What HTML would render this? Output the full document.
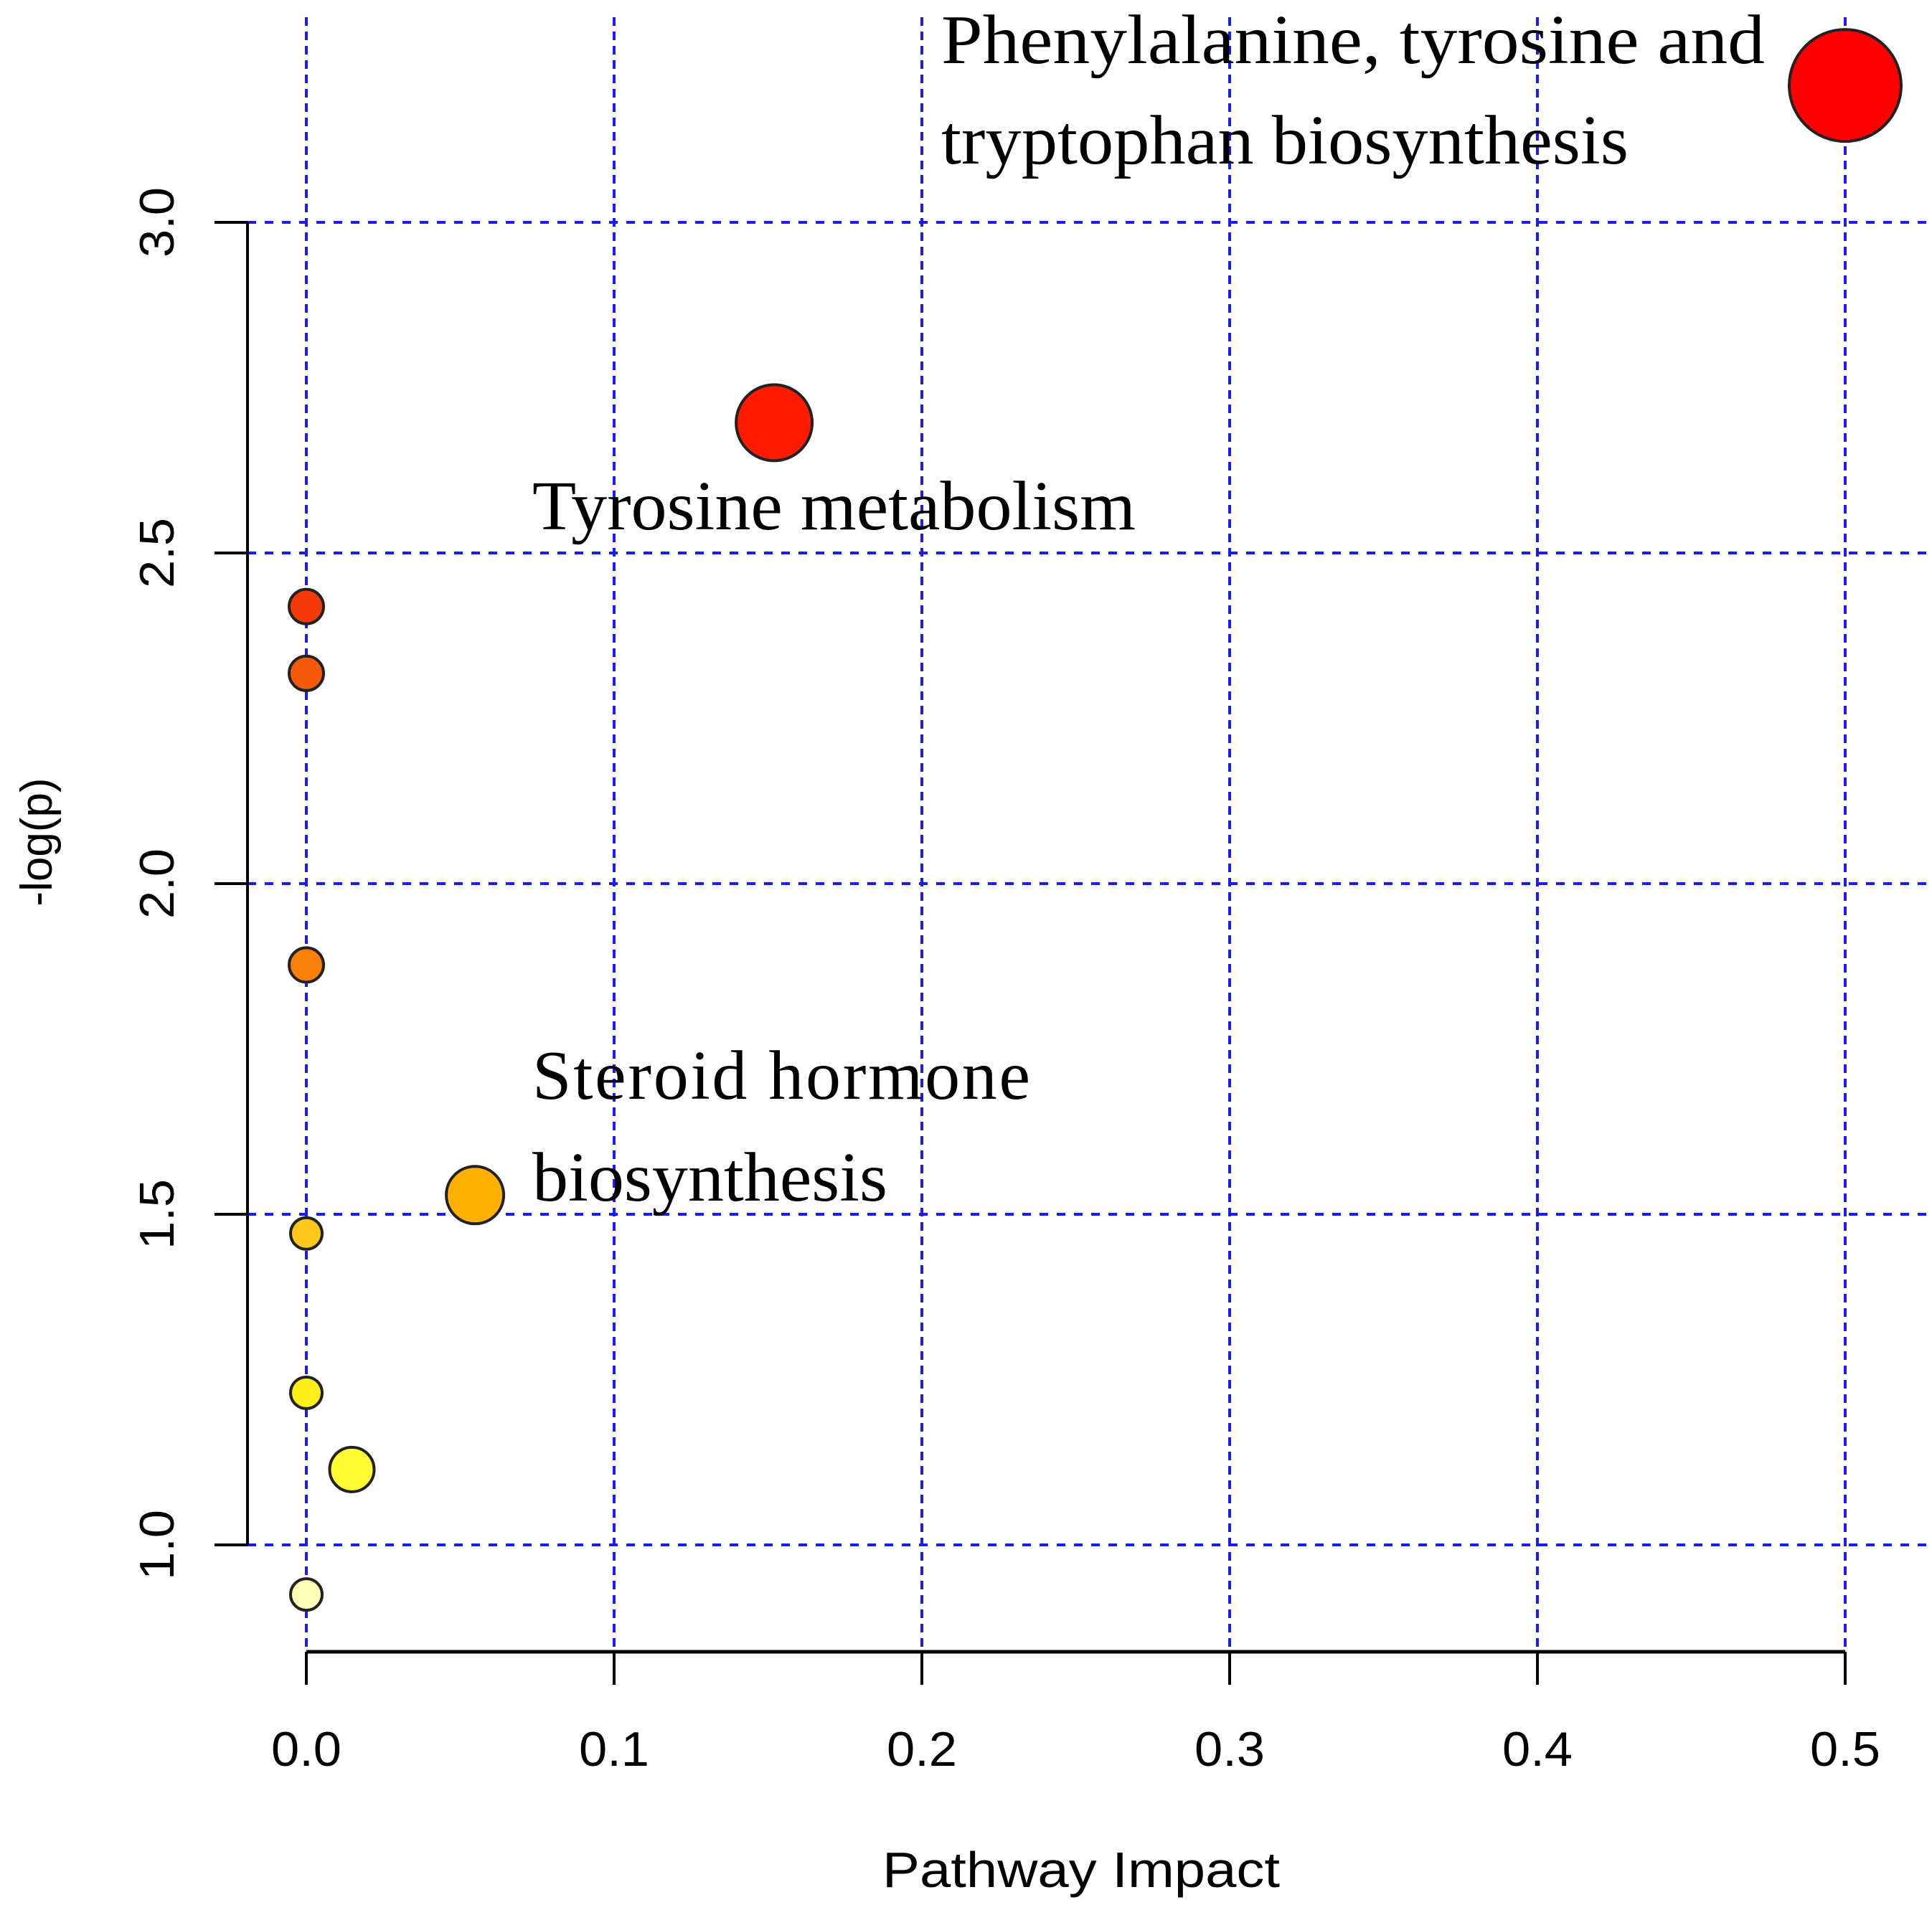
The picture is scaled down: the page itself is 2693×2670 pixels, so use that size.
<!DOCTYPE html>
<html><head><meta charset="utf-8"><style>
html,body{margin:0;padding:0;background:#fff;}
svg{display:block;}
</style></head><body>
<svg id="chart" width="2693" height="2670" viewBox="0 0 2693 2670" xmlns="http://www.w3.org/2000/svg">
<rect width="2693" height="2670" fill="#fff"/>
<g id="grid"></g>
<g id="axes"></g>
<g id="points"></g>
<g id="labels" font-family="Liberation Serif, serif" font-size="98" fill="#000">
<text x="1312" y="88" textLength="1148" lengthAdjust="spacingAndGlyphs">Phenylalanine, tyrosine and</text>
<text x="1312" y="228" textLength="958" lengthAdjust="spacingAndGlyphs">tryptophan biosynthesis</text>
<text x="742" y="738" textLength="841" lengthAdjust="spacingAndGlyphs">Tyrosine metabolism</text>
<text x="742" y="1532" textLength="694" lengthAdjust="spacing">Steroid  hormone</text>
<text x="742" y="1674" textLength="495" lengthAdjust="spacingAndGlyphs">biosynthesis</text>
</g>
</svg>
<script>
const impactValues = [0.5, 0.152, 0, 0, 0, 0.0548, 0, 0, 0.0148, 0];
const logPValues = [3.207, 2.697, 2.419, 2.318, 1.877, 1.529, 1.471, 1.230, 1.114, 0.925];
const pointColors = ["#ff0000","#ff1a00","#f53a0a","#f55a0a","#f77f0a","#ffb000","#ffc81a","#ffee1a","#ffff33","#ffffb8"];
const pointRadii = [78, 53, 24, 24, 24, 40, 22, 22, 31, 22];
const xTicks = [0, 0.1, 0.2, 0.3, 0.4, 0.5];
const xTickLabels = ["0.0","0.1","0.2","0.3","0.4","0.5"];
const yTicks = [1.0, 1.5, 2.0, 2.5, 3.0];
const yTickLabels = ["1.0","1.5","2.0","2.5","3.0"];

const NS = "http://www.w3.org/2000/svg";
const X0 = 427, XS = 4290;
const Y1 = 2154, YS = 922;
function sx(v){ return X0 + v * XS; }
function sy(v){ return Y1 - (v - 1) * YS; }
function mk(tag, attrs, parent){
  const e = document.createElementNS(NS, tag);
  for (const k in attrs) e.setAttribute(k, attrs[k]);
  parent.appendChild(e);
  return e;
}
const grid = document.getElementById('grid');
const axes = document.getElementById('axes');
const pts = document.getElementById('points');
const axisY = 2303;
const axisX = 345;

xTicks.forEach((t, i) => {
  const gl = mk('line', {x1: sx(t), x2: sx(t), y1: 24, y2: axisY, stroke: '#1a1aff', 'stroke-width': 4, 'stroke-dasharray': '12 8'}, grid);
  
  
  const tk = mk('line', {x1: sx(t), x2: sx(t), y1: axisY, y2: axisY + 46, stroke: '#000', 'stroke-width': 4}, axes);
  
  
  const lb = mk('text', {x: sx(t), y: 2462, 'text-anchor': 'middle', 'font-family': 'Liberation Sans, sans-serif', 'font-size': 68, textLength: 98, lengthAdjust: 'spacingAndGlyphs'}, axes);
  lb.textContent = xTickLabels[i];
  
  
});
yTicks.forEach((t, i) => {
  const gl = mk('line', {x1: axisX, x2: 2693, y1: sy(t), y2: sy(t), stroke: '#1a1aff', 'stroke-width': 4, 'stroke-dasharray': '12 12'}, grid);
  
  
  const tk = mk('line', {x1: axisX - 46, x2: axisX, y1: sy(t), y2: sy(t), stroke: '#000', 'stroke-width': 4}, axes);
  
  
  const lb = mk('text', {x: 0, y: 0, 'text-anchor': 'middle', 'font-family': 'Liberation Sans, sans-serif', 'font-size': 68, transform: 'translate(242,' + sy(t) + ') rotate(-90)', textLength: 98, lengthAdjust: 'spacingAndGlyphs'}, axes);
  lb.textContent = yTickLabels[i];
  
  
});
const xl = mk('line', {x1: sx(0), x2: sx(0.5), y1: axisY, y2: axisY, stroke: '#000', 'stroke-width': 5}, axes);


const yl = mk('line', {x1: axisX, x2: axisX, y1: sy(3), y2: sy(1), stroke: '#000', 'stroke-width': 4}, axes);


const xt = mk('text', {x: 1507, y: 2631, 'text-anchor': 'middle', 'font-family': 'Liberation Sans, sans-serif', 'font-size': 70, textLength: 554, lengthAdjust: 'spacingAndGlyphs'}, axes);
xt.textContent = 'Pathway Impact';


const yt = mk('text', {x: 0, y: 0, 'text-anchor': 'middle', 'font-family': 'Liberation Sans, sans-serif', 'font-size': 62, transform: 'translate(72,1174) rotate(-90)'}, axes);
yt.textContent = '-log(p)';



impactValues.forEach((v, i) => {
  const c = mk('circle', {cx: sx(v), cy: sy(logPValues[i]), r: pointRadii[i], fill: pointColors[i], stroke: '#222', 'stroke-width': 4}, pts);
  
  
});
</script>
</body></html>
